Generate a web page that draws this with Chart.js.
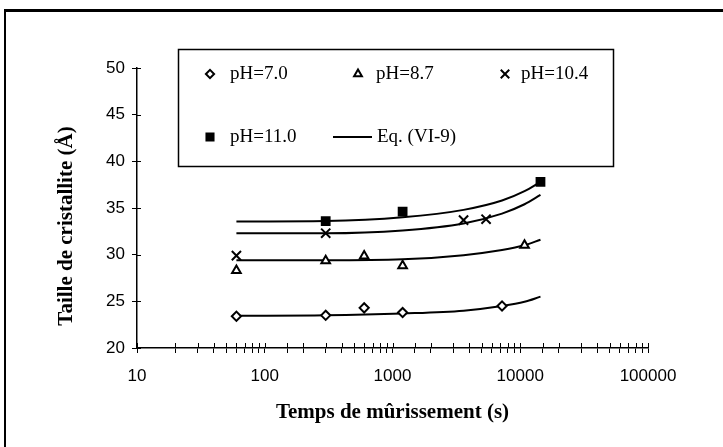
<!DOCTYPE html>
<html>
<head>
<meta charset="utf-8">
<script src="https://cdn.jsdelivr.net/npm/chart.js@4/dist/chart.umd.min.js"></script>
<style>
  html, body { margin: 0; padding: 0; background: #fff; }
  #wrap { position: relative; width: 723px; height: 447px; overflow: hidden; }
  #frame { position: absolute; left: 4px; top: 9px; width: 760px; height: 470px;
           border-top: 3px solid #000; border-left: 2px solid #000; }
  #c { position: absolute; left: 0; top: 0; }
</style>
</head>
<body>
<div id="wrap">
  <div id="frame"></div>
  <canvas id="c" width="723" height="447"></canvas>
</div>
<script>
// Mesures : temps de mûrissement (s) et taille de cristallite (Å)
const times70 = [60, 300, 600, 1200, 7200];
const size70 = [23.4, 23.5, 24.3, 23.8, 24.5];

const times87 = [60, 300, 600, 1200, 10800];
const size87 = [28.3, 29.35, 29.85, 28.8, 31.0];

const times104 = [60, 300, 3600, 5400];
const size104 = [29.9, 32.3, 33.7, 33.8];

const times110 = [300, 1200, 14400];
const size110 = [33.6, 34.6, 37.8];

// Courbes Eq. (VI-9)
const fitTimes = [60, 300, 1200, 3600, 7200, 10800, 14400];
const fit70 = [23.45, 23.5, 23.7, 24.0, 24.5, 24.95, 25.5];
const fit87 = [29.4, 29.4, 29.5, 29.95, 30.5, 31.0, 31.6];
const fit104 = [32.3, 32.3, 32.6, 33.35, 34.4, 35.4, 36.4];
const fit110 = [33.55, 33.6, 34.0, 34.8, 35.8, 36.8, 37.8];

const yTicks = [20, 25, 30, 35, 40, 45, 50];

const serif = '"Liberation Serif", "Times New Roman", serif';
const sans = '"Liberation Sans", Arial, sans-serif';
const yTitle = 'Taille de cristallite (Å)';

function pts(xs, ys) {
  return xs.map((x, i) => ({ x: x, y: ys[i] }));
}

function markers(label, xs, ys, style, radius, fill) {
  return {
    label: label,
    data: pts(xs, ys),
    showLine: false,
    pointStyle: style,
    pointRadius: radius,
    pointHoverRadius: radius,
    pointBorderWidth: 2,
    pointBorderColor: '#000',
    pointBackgroundColor: fill
  };
}

function fitLine(ys) {
  return {
    label: 'Eq. (VI-9)',
    data: pts(fitTimes, ys),
    showLine: true,
    borderColor: '#000',
    borderWidth: 2,
    pointRadius: 0,
    cubicInterpolationMode: 'monotone'
  };
}

// petits traits de graduation du côté intérieur des axes
const crossTicks = {
  id: 'crossTicks',
  afterDatasetsDraw(chart) {
    const { ctx, chartArea, scales } = chart;
    ctx.save();
    ctx.strokeStyle = '#000';
    ctx.lineWidth = 1;
    scales.x.ticks.forEach(t => {
      const px = Math.round(scales.x.getPixelForValue(t.value)) + 0.5;
      ctx.beginPath();
      ctx.moveTo(px, chartArea.bottom);
      ctx.lineTo(px, chartArea.bottom - 5);
      ctx.stroke();
    });
    scales.y.ticks.forEach(t => {
      const py = Math.round(scales.y.getPixelForValue(t.value)) + 0.5;
      ctx.beginPath();
      ctx.moveTo(chartArea.left, py);
      ctx.lineTo(chartArea.left + 4, py);
      ctx.stroke();
    });
    ctx.restore();
  }
};

// titre vertical, un peu plus bas que le milieu de l'axe
const sideTitle = {
  id: 'sideTitle',
  afterDraw(chart) {
    const ctx = chart.ctx;
    ctx.save();
    ctx.translate(67, 226);
    ctx.rotate(-Math.PI / 2);
    ctx.font = 'bold 21px ' + serif;
    ctx.fillStyle = '#000';
    ctx.textAlign = 'center';
    ctx.textBaseline = 'middle';
    ctx.fillText(yTitle, 0, 0);
    ctx.restore();
  }
};

// légende encadrée, deux lignes
const boxLegend = {
  id: 'boxLegend',
  afterDraw(chart) {
    const ctx = chart.ctx;
    const ds = chart.data.datasets;
    ctx.save();
    ctx.strokeStyle = '#000';
    ctx.lineWidth = 1.5;
    ctx.strokeRect(178.5, 49.5, 435, 117);

    const items = [
      { d: ds[0], mx: 210, tx: 230, y: 74 },
      { d: ds[1], mx: 358, tx: 376, y: 74 },
      { d: ds[2], mx: 505, tx: 521, y: 74 },
      { d: ds[3], mx: 210, tx: 230, y: 137 }
    ];
    ctx.font = '19px ' + serif;
    ctx.textBaseline = 'middle';
    items.forEach(it => {
      ctx.fillStyle = it.d.pointBackgroundColor;
      ctx.strokeStyle = '#000';
      ctx.lineWidth = 2;
      Chart.helpers.drawPoint(ctx, {
        pointStyle: it.d.pointStyle,
        radius: it.d.pointRadius - 0.5,
        borderWidth: 2,
        rotation: 0
      }, it.mx, it.y);
      ctx.fillStyle = '#000';
      ctx.fillText(it.d.label, it.tx, it.y);
    });

    ctx.lineWidth = 2;
    ctx.beginPath();
    ctx.moveTo(333, 137);
    ctx.lineTo(372, 137);
    ctx.stroke();
    ctx.fillText(ds[4].label, 377, 137);
    ctx.restore();
  }
};

new Chart(document.getElementById('c'), {
  type: 'scatter',
  data: {
    datasets: [
      markers('pH=7.0', times70, size70, 'rectRot', 4.6, '#fff'),
      markers('pH=8.7', times87, size87, 'triangle', 5, '#fff'),
      markers('pH=10.4', times104, size104, 'crossRot', 6.5, '#000'),
      markers('pH=11.0', times110, size110, 'rect', 5.5, '#000'),
      fitLine(fit70),
      fitLine(fit87),
      fitLine(fit104),
      fitLine(fit110)
    ]
  },
  options: {
    responsive: false,
    animation: false,
    layout: { padding: { left: 57, top: 68, right: 75, bottom: 20 } },
    plugins: {
      legend: { display: false },
      tooltip: { enabled: false }
    },
    scales: {
      x: {
        type: 'logarithmic',
        position: 'bottom',
        min: 10,
        max: 100000,
        afterFit: s => { s.height = 447 - 348 - 20; },
        border: { color: '#000', width: 1.5 },
        grid: { drawOnChartArea: false, color: '#000', tickColor: '#000', tickLength: 5 },
        ticks: {
          autoSkip: false,
          maxRotation: 0,
          padding: 13,
          color: '#000',
          font: { family: sans, size: 17 },
          callback: v => {
            const e = Math.log10(v);
            return Math.abs(e - Math.round(e)) < 1e-9 ? String(v) : '';
          }
        },
        title: {
          display: true,
          text: 'Temps de mûrissement (s)',
          color: '#000',
          font: { family: serif, size: 21, weight: 'bold' },
          padding: { top: 0, bottom: 2 }
        }
      },
      y: {
        min: 20,
        max: 50,
        afterFit: s => { s.width = 137 - 57; },
        afterBuildTicks: s => { s.ticks = yTicks.map(v => ({ value: v })); },
        border: { color: '#000', width: 1.5 },
        grid: { drawOnChartArea: false, color: '#000', tickColor: '#000', tickLength: 5 },
        ticks: {
          padding: 7,
          color: '#000',
          font: { family: sans, size: 17 }
        },
        title: { display: false }
      }
    }
  },
  plugins: [crossTicks, sideTitle, boxLegend]
});
</script>
</body>
</html>
